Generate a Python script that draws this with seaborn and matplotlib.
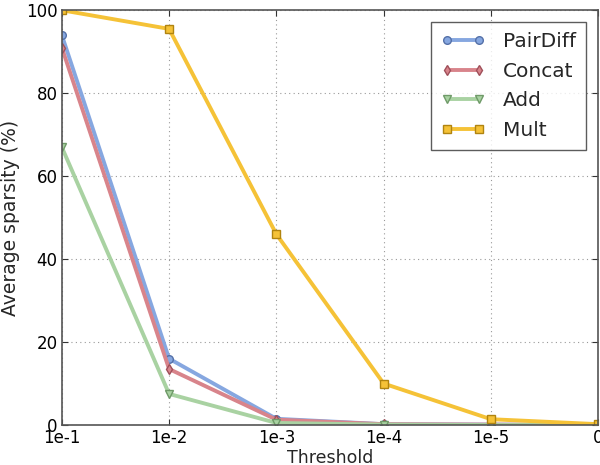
import matplotlib
matplotlib.use("Agg")
import matplotlib.pyplot as plt
import seaborn as sns
import pandas as pd

thresholds = ["1e-1", "1e-2", "1e-3", "1e-4", "1e-5", "0"]
methods = ["PairDiff", "Concat", "Add", "Mult"]
pairdiff = [94.0, 16.0, 1.5, 0.2, 0.1, 0.0]
concat = [91.0, 13.5, 1.3, 0.2, 0.1, 0.0]
add = [67.0, 7.5, 0.5, 0.1, 0.0, 0.0]
mult = [100.0, 95.5, 46.0, 10.0, 1.4, 0.2]

colors = ["#86a7e0", "#d8848b", "#a9d2a2", "#f5c237"]
edges = ["#5470a8", "#a0505a", "#6f9a68", "#b08410"]
markers = ["o", "d", "v", "s"]

df = pd.DataFrame({
    "pos": list(range(len(thresholds))) * 4,
    "sparsity": pairdiff + concat + add + mult,
    "method": [m for m in methods for _ in thresholds],
})

sns.set_style("white")
plt.rcParams["font.family"] = ["DejaVu Sans"]

fig, ax = plt.subplots(figsize=(6, 4.65), dpi=100)
fig.subplots_adjust(left=0.103, right=0.997, bottom=0.086, top=0.978)

for m, c, e, mk in zip(methods, colors, edges, markers):
    sns.lineplot(data=df[df["method"] == m], x="pos", y="sparsity", ax=ax,
                 color=c, linewidth=2.8, marker=mk, markersize=5.5,
                 markeredgecolor=e, markeredgewidth=1, label=m)

ax.set_xlim(0, 5)
ax.set_ylim(0, 100)
ax.set_xticks(range(len(thresholds)))
ax.set_xticklabels(thresholds)
ax.set_yticks([0, 20, 40, 60, 80, 100])
ax.tick_params(axis="both", labelsize=12, direction="in", length=4,
               colors="#333333", labelcolor="black", top=True, right=True,
               bottom=True, left=True, pad=3)
ax.grid(True, linestyle=(0, (1, 3)), color="#999999", linewidth=0.8)
for s in ax.spines.values():
    s.set_color("#555555")
    s.set_linewidth(1.2)
ax.set_xlabel("Threshold", fontsize=12.5, labelpad=1)
ax.set_ylabel("Average sparsity (%)", fontsize=13.5, labelpad=4)

leg = ax.legend(loc="upper right", fontsize=14.5, numpoints=2, fancybox=False,
                frameon=True, borderaxespad=0.6, handlelength=2.2,
                handletextpad=0.9, borderpad=0.5, labelspacing=0.52)
leg.get_frame().set_edgecolor("#333333")
leg.get_frame().set_linewidth(1.0)

fig.savefig("out.png", dpi=100)
